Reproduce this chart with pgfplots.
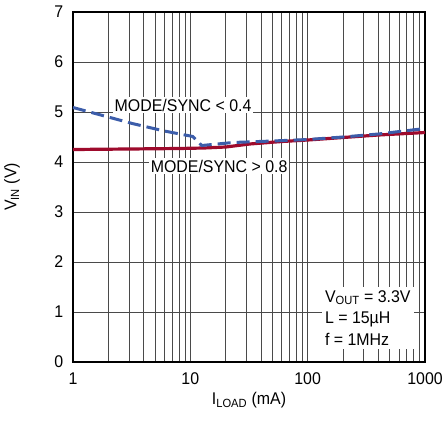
\documentclass[border=0pt]{standalone}
\usepackage{pgfplots}
\pgfplotsset{compat=1.18}
\usepackage{fontspec}
\setmainfont{Liberation Sans}[FakeStretch=0.94]
\definecolor{ltred}{HTML}{9E0A2C}
\definecolor{ltblue}{HTML}{3C5DAA}
\definecolor{gridc}{HTML}{4A4A4A}
\begin{document}
\fontsize{17}{20}\selectfont
\begin{tikzpicture}
\useasboundingbox (-73bp,-61bp) rectangle (369bp,362bp);
\begin{semilogxaxis}[
  at={(0,0)}, anchor=south west,
  width=352bp, height=350bp, scale only axis,
  xmin=1, xmax=1000, ymin=0, ymax=7,
  xtick={1,10,100,1000}, xticklabels={1,10,100,1000},
  minor xtick={2,3,4,5,6,7,8,9,20,30,40,50,60,70,80,90,200,300,400,500,600,700,800,900},
  ytick={0,1,2,3,4,5,6,7},
  yticklabels={0,1,2,3,4,5,6,7},
  grid=both,
  major grid style={gridc, line width=0.9bp},
  minor grid style={gridc, line width=0.9bp},
  axis line style={black, line width=1.2bp},
  major tick length=0pt, minor tick length=0pt,
  xticklabel style={font=\fontsize{17}{20}\selectfont, yshift=-5bp},
  yticklabel style={font=\fontsize{17}{20}\selectfont, xshift=-4bp},
  /pgf/number format/assume math mode=true,
  xlabel={I\textsubscript{LOAD} (mA)},
  ylabel={V\textsubscript{IN} (V)},
  xlabel style={font=\fontsize{17}{20}\selectfont, at={(axis description cs:0.5,-0.109)}, anchor=center},
  ylabel style={font=\fontsize{17}{20}\selectfont, at={(axis description cs:-0.173,0.5)}, anchor=center},
  clip=true,
]
\addplot[ltred, line width=3.2bp] coordinates {
(1,4.25) (3,4.26) (8,4.27) (13,4.28) (20,4.30) (32,4.36) (60,4.41) (100,4.44) (200,4.49) (400,4.54) (1000,4.59)
};
\addplot[ltblue, line width=3bp, dash pattern=on 13bp off 6bp] coordinates {
(1,5.09) (3.2,4.77) (6,4.62) (10.5,4.51) (12.5,4.33) (23,4.39) (50,4.42) (100,4.45) (200,4.50) (400,4.56) (1000,4.67)
};
\node[fill=white, inner sep=2bp] at (axis cs:8.67,5.14) {MODE/SYNC < 0.4};
\node[fill=white, inner sep=2bp] at (axis cs:17.6,3.92) {MODE/SYNC > 0.8};
\node[fill=white, anchor=north west, align=left, inner sep=3bp, font=\fontsize{17}{22}\selectfont] at (axis cs:132,1.5) {V\textsubscript{OUT} = 3.3V\\L = 15µH\\f = 1MHz};
\end{semilogxaxis}
\end{tikzpicture}
\end{document}
